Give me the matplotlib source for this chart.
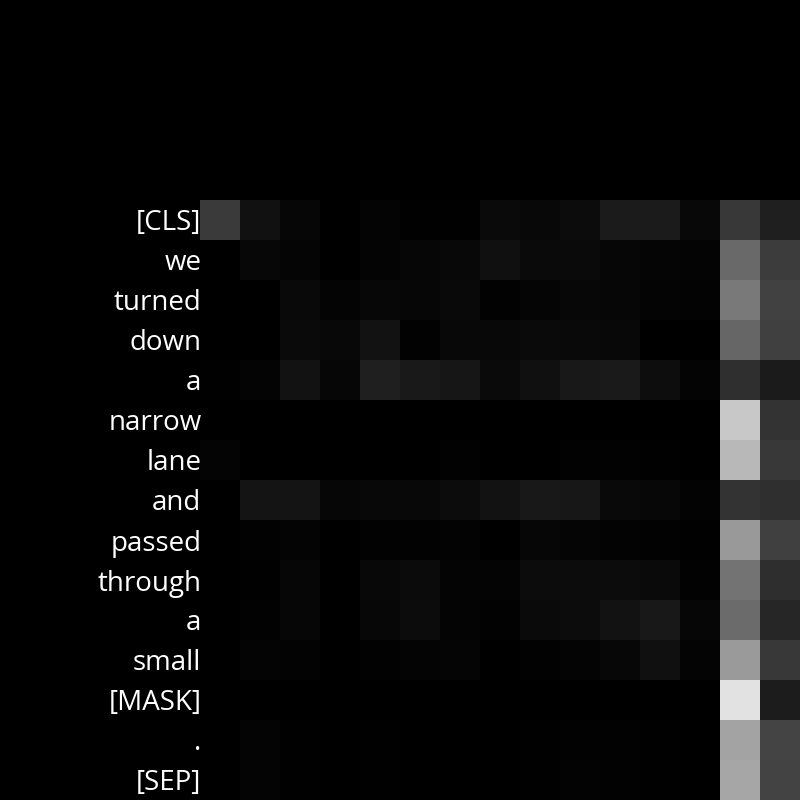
import matplotlib.pyplot as plt
import numpy as np

# tokens on the y axis (rows) - columns are the same tokens, unlabeled
tokens = ['[CLS]', 'we', 'turned', 'down', 'a', 'narrow', 'lane', 'and',
          'passed', 'through', 'a', 'small', '[MASK]', '.', '[SEP]']

# attention weights (grey level 0-255)
weights = [
    [58, 17, 6, 0, 4, 1, 1, 10, 8, 12, 27, 27, 8, 56, 31],
    [0, 7, 5, 0, 4, 6, 8, 16, 10, 10, 6, 5, 4, 106, 60],
    [0, 0, 9, 4, 7, 6, 9, 2, 5, 7, 6, 4, 3, 122, 66],
    [0, 0, 10, 8, 18, 2, 8, 8, 10, 9, 8, 0, 0, 102, 64],
    [1, 4, 18, 6, 31, 25, 22, 10, 16, 24, 26, 13, 4, 47, 27],
    [0, 0, 0, 0, 0, 0, 0, 0, 0, 0, 0, 0, 0, 200, 51],
    [4, 0, 0, 0, 0, 0, 2, 0, 0, 2, 2, 1, 0, 184, 56],
    [0, 20, 20, 6, 8, 8, 12, 18, 24, 23, 9, 7, 3, 51, 47],
    [0, 2, 4, 0, 2, 2, 3, 0, 6, 5, 3, 2, 1, 153, 64],
    [0, 1, 6, 0, 8, 11, 4, 4, 12, 12, 12, 10, 2, 115, 46],
    [0, 2, 6, 0, 7, 12, 4, 2, 10, 12, 18, 24, 6, 107, 38],
    [0, 4, 3, 0, 2, 4, 5, 0, 2, 4, 7, 16, 4, 154, 56],
    [0, 0, 0, 0, 0, 0, 0, 0, 0, 0, 0, 0, 0, 226, 28],
    [0, 4, 1, 0, 1, 0, 0, 0, 1, 2, 2, 1, 0, 163, 68],
    [0, 4, 1, 0, 1, 0, 0, 0, 1, 3, 2, 1, 0, 166, 67],
]


def main():
    plt.rcParams['font.family'] = ['Open Sans', 'DejaVu Sans']

    fig = plt.figure(figsize=(8, 8), dpi=100, facecolor='black')
    ax = fig.add_axes([0.25, 0.0, 0.75, 0.75])
    ax.set_facecolor('black')

    data = np.array(weights)
    ax.imshow(data, cmap='gray', vmin=0, vmax=255, aspect='auto',
              interpolation='nearest')

    # row labels on the left, no column labels
    ax.set_yticks(range(len(tokens)))
    ax.set_yticklabels(tokens, color='white', fontsize=20)
    ax.set_xticks([])
    ax.tick_params(axis='y', length=0, pad=-1)
    for s in ax.spines.values():
        s.set_visible(False)

    fig.savefig('out.png', dpi=100, facecolor='black')


if __name__ == '__main__':
    main()
